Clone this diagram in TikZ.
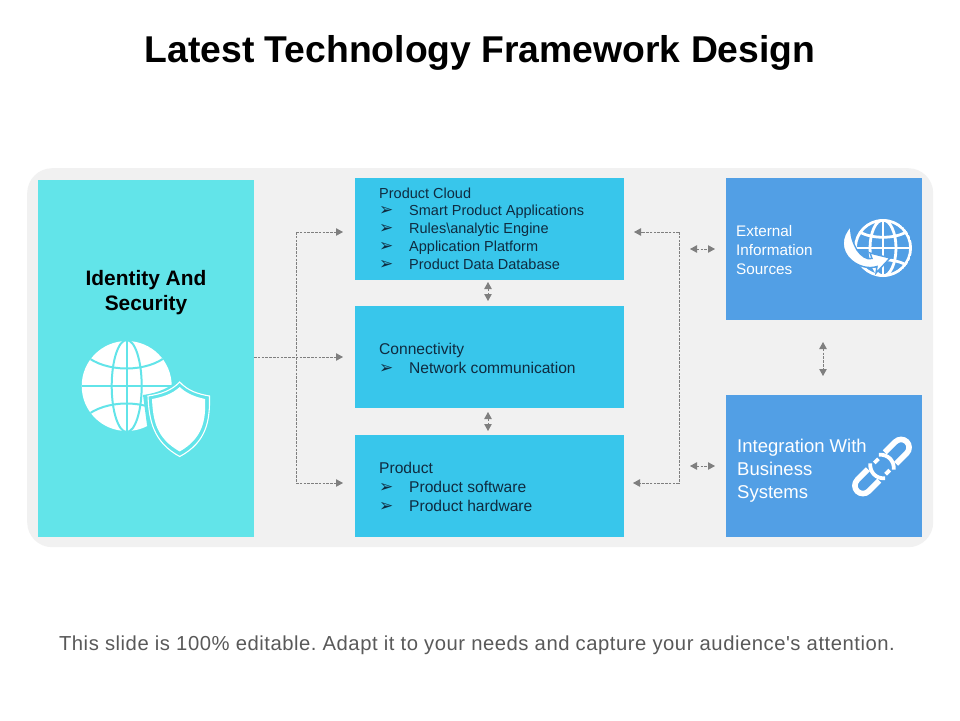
\documentclass[tikz,border=0pt]{standalone}
\usepackage{fontspec}
\setmainfont{Liberation Sans}
\newfontfamily\dingfont{DejaVu Sans}
\newfontfamily\footfont[LetterSpace=2.6]{Liberation Sans}
\usetikzlibrary{arrows.meta}
\definecolor{panel}{HTML}{F1F1F1}
\definecolor{aqua}{HTML}{62E4E9}
\definecolor{sky}{HTML}{38C6EB}
\definecolor{azure}{HTML}{529FE5}
\definecolor{ink}{HTML}{0F2B40}
\definecolor{conn}{HTML}{7F7F7F}
\definecolor{foot}{HTML}{595959}
\newcommand{\bul}[1]{\makebox[30pt][l]{{\dingfont\fontsize{17pt}{11pt}\selectfont ➢}}#1}
\tikzset{
  x=1pt,y=-1pt,
  midbox/.style={draw=none,fill=sky,anchor=north west,inner sep=0pt,minimum width=269pt,minimum height=102pt},
  sidebox/.style={draw=none,fill=azure,anchor=north west,inner sep=0pt,minimum width=196pt,minimum height=142pt},
  midtext/.style 2 args={anchor=west,inner sep=0pt,align=left,text=ink,font=\fontsize{#1}{#2}\selectfont},
  link/.style={draw=conn,line width=.8pt,dash pattern=on 2.6pt off 1.2pt},
  arr/.style={link,-{Triangle[length=7pt,width=7.5pt,fill=conn]}},
  arrs/.style={link,{Triangle[length=7pt,width=7.5pt,fill=conn]}-{Triangle[length=7pt,width=7.5pt,fill=conn]}},
}
\begin{document}
\frenchspacing
\begin{tikzpicture}
\useasboundingbox (0,0) rectangle (960,720);
\fill[white] (0,0) rectangle (960,720);
\node[anchor=center,inner sep=0pt,font=\bfseries\fontsize{37.3pt}{40pt}\selectfont] (title) at (480,52.5) {Latest Technology Framework Design};
\node[anchor=north west,fill=panel,inner sep=0pt,minimum width=906pt,minimum height=379pt,rounded corners=25pt] (panelbox) at (27,168) {};
\node[anchor=north west,fill=aqua,inner sep=0pt,minimum width=216pt,minimum height=357pt] (idbox) at (38,180) {};
\node[midbox] (cloud) at (355,178) {};
\node[midbox] (connect) at (355,306) {};
\node[midbox] (product) at (355,435) {};
\node[sidebox] (external) at (726,178) {};
\node[sidebox] (integration) at (726,395) {};
% texts
\node[anchor=center,inner sep=0pt,align=center,font=\bfseries\fontsize{20.9pt}{25pt}\selectfont] (idtext) at (146,293) {Identity And\\Security};
\node[midtext={14.5pt}{17.8pt}] (cloudtext) at (379,228.5) {Product Cloud\\\bul{Smart Product Applications}\\\bul{Rules\textbackslash analytic Engine}\\\bul{Application Platform}\\\bul{Product Data Database}};
\node[midtext={15.6pt}{19pt}] (connecttext) at (379,358.5) {Connectivity\\\bul{Network communication}};
\node[midtext={15.6pt}{19pt}] (producttext) at (379,487) {Product\\\bul{Product software}\\\bul{Product hardware}};
\node[anchor=west,inner sep=0pt,align=left,text=white,font=\fontsize{15.3pt}{19pt}\selectfont] (exttext) at (736,250) {External\\Information\\Sources};
\node[anchor=west,inner sep=0pt,align=left,text=white,font=\fontsize{18.5pt}{23pt}\selectfont] (inttext) at (737,470.5) {Integration With\\Business\\Systems};
\node[anchor=center,inner sep=0pt,text=foot,font=\footfont\fontsize{20.25pt}{22pt}\selectfont] (foottext) at (477,645.5) {This slide is 100\% editable. Adapt it to your needs and capture your audience's attention.};
% connector coordinates
\coordinate (startL) at (254,357);
\coordinate (topL) at (296,232);
\coordinate (botL) at (296,483);
\coordinate (cloudIn) at (343,232);
\coordinate (connIn) at (343,357);
\coordinate (prodIn) at (343,483);
\coordinate (topR) at (679,232);
\coordinate (botR) at (679,483);
\coordinate (cloudInR) at (634,232);
\coordinate (prodInR) at (633,483);
\coordinate (extA) at (690,249); \coordinate (extB) at (715,249);
\coordinate (intA) at (690,466); \coordinate (intB) at (715,466);
\coordinate (m1a) at (488,282); \coordinate (m1b) at (488,301);
\coordinate (m2a) at (488,412); \coordinate (m2b) at (488,431);
\coordinate (s1a) at (823,342); \coordinate (s1b) at (823,376);
\draw[arr] (startL) -- (connIn);
\draw[link] (topL) -- (botL);
\draw[arr] (topL) -- (cloudIn);
\draw[arr] (botL) -- (prodIn);
\draw[link] (topR) -- (botR);
\draw[arr] (topR) -- (cloudInR);
\draw[arr] (botR) -- (prodInR);
\draw[arrs] (extA) -- (extB);
\draw[arrs] (intA) -- (intB);
\draw[arrs] (m1a) -- (m1b);
\draw[arrs] (m2a) -- (m2b);
\draw[arrs] (s1a) -- (s1b);
% globe + shield icon
\begin{scope}
  \fill[white] (126.7,386) circle[radius=45];
  \clip (126.7,386) circle[radius=45];
  \begin{scope}[draw=aqua,line width=2pt]
    \draw (80,386) -- (175,386);
    \draw (126.7,340) -- (126.7,432);
    \draw (126.7,386) ellipse[x radius=15,y radius=46];
    \draw (85,355) .. controls (105,373) and (148,373) .. (168,355);
    \draw (85,417) .. controls (105,399) and (148,399) .. (168,417);
  \end{scope}
\end{scope}
\fill[aqua] (179.7,378) -- (195,390) -- (214,395) -- (212,425) .. controls (206,445) and (192,455) .. (179.7,461) .. controls (167,455) and (153,445) .. (147,425) -- (143,395) .. controls (158,393) and (170,388) .. (179.7,378) -- cycle;
\draw[white,line width=1.1pt] (179.7,382) .. controls (188,391) and (198,394) .. (209.5,396) .. controls (210,420) and (207,442) .. (179.7,456.5) .. controls (153,442) and (149,420) .. (148,396) .. controls (161,394) and (171,391) .. (179.7,382) -- cycle;
\fill[white] (179.7,387) .. controls (187,394) and (196,397) .. (205,399) .. controls (206,420) and (203,438) .. (179.7,451.5) .. controls (156,438) and (153,420) .. (152,399) .. controls (163,397) and (172,394) .. (179.7,387) -- cycle;
% external globe icon
\begin{scope}
  \clip (883,248) circle[radius=29];
  \begin{scope}[draw=white,line width=2.8pt]
    \draw (883,248) circle[radius=27.6];
    \draw (883,248) ellipse[x radius=13,y radius=28];
    \draw (883,218) -- (883,278);
    \draw (854,248) -- (912,248);
    \draw (860,232) .. controls (871,239) and (895,239) .. (906,232);
    \draw (860,265) .. controls (871,258) and (895,258) .. (906,265);
  \end{scope}
\end{scope}
\fill[white,draw=azure,line width=1.4pt] (851,226) .. controls (840,237) and (841,251) .. (851,260) .. controls (859,267) and (869,269) .. (877,266.5) -- (876,273) -- (890,258) -- (870,253) -- (872,258.5) .. controls (867,260) and (861,256) .. (857,250) .. controls (853,243) and (850,235) .. (851,226) -- cycle;
% chain icon
\begin{scope}[shift={(882,466.5)},rotate=45]
  \begin{scope}[draw=white,line width=5.6pt]
    \draw (12,-8) -- (27,-8) arc[start angle=-90,end angle=90,radius=8] -- (12,8);
    \draw (-12,-8) -- (-27,-8) arc[start angle=270,end angle=90,radius=8] -- (-12,8);
  \end{scope}
  \begin{scope}[draw=white,line width=3.8pt]
    \draw (6,-10.5) .. controls (13,-5) and (13,5) .. (6,10.5);
    \draw (-6,-10.5) .. controls (-13,-5) and (-13,5) .. (-6,10.5);
    \draw (-3,-8) -- (3,-8);
    \draw (-3,8) -- (3,8);
  \end{scope}
\end{scope}
\end{tikzpicture}
\end{document}
